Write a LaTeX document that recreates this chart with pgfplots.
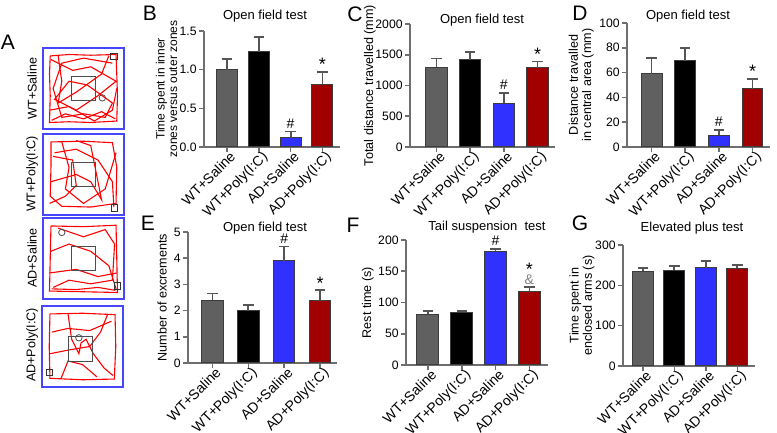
\documentclass[border=0pt]{standalone}
\usepackage{fontspec}
\setmainfont{Liberation Sans}
\usepackage{pgfplots}
\pgfplotsset{compat=1.18}

\definecolor{bargray}{RGB}{96,96,96}
\definecolor{barblue}{RGB}{48,48,255}
\definecolor{barred}{RGB}{160,0,0}
\definecolor{edgegray}{RGB}{60,60,60}
\definecolor{axisgray}{RGB}{110,110,110}
\definecolor{errgray}{RGB}{85,85,85}
\definecolor{framblue}{RGB}{70,70,255}

\newcommand{\tickfont}{\fontsize{6.1}{7}\selectfont}
\newcommand{\labfont}{\fontsize{6.3}{6.6}\selectfont}
\newcommand{\titfont}{\fontsize{6.5}{8}\selectfont}
\newcommand{\letfont}{\fontsize{10.5}{12}\selectfont}
\newcommand{\sigfont}{\fontsize{7}{8}\selectfont}
\newcommand{\starfont}{\fontsize{9}{9}\selectfont}

\pgfplotsset{
  barpanel/.style={
    scale only axis, anchor=south west,
    axis x line*=bottom, axis y line*=left,
    axis line style={draw=axisgray, line width=0.8pt},
    ybar, bar shift=0pt, ymin=0,
    xtick={0,1,2,3},
    xticklabels={WT+Saline,WT+Poly(I:C),AD+Saline,AD+Poly(I:C)},
    x tick label style={rotate=45, anchor=north east, font=\fontsize{7}{7}\selectfont,
      inner sep=1pt, xshift=2.5pt, yshift=1pt},
    y tick label style={font=\tickfont, inner sep=1pt},
    ylabel style={font=\labfont, align=center, inner sep=0pt, anchor=center},
    tick style={draw=axisgray, line width=0.8pt},
    major tick length=2.5pt, tick align=outside,
    /pgf/number format/assume math mode=true,
    clip=false,
  },
  ylpos/.style={ylabel style={at={(axis description cs:#1,0.5)}}},
  bar/.style={draw=edgegray, line width=0.5pt,
    error bars/y dir=plus, error bars/y explicit,
    error bars/error bar style={draw=errgray, line width=0.9pt},
    error bars/error mark options={rotate=90, draw=errgray, line width=0.9pt, mark size=2.6pt}},
  track/.style={
    scale only axis, anchor=south west, width=40.5pt, height=40.5pt,
    xmin=-6, xmax=106, ymin=-6, ymax=106, ticks=none,
    axis line style={draw=framblue, line width=0.8pt}},
  path/.style={red, line width=0.55pt},
  zone/.style={black!70, line width=0.45pt},
}

\begin{document}
\begin{tikzpicture}[x=1pt,y=1pt]
\path[use as bounding box] (0,0) rectangle (388.5,216.5);

% ---------- A: tracks ----------
\node[font=\letfont] at (4,195.5) {A};
\begin{axis}[track, at={(21.5pt,152pt)}]
\addplot[path] coordinates {(4,95)(30,97)(60,96)(95,97)(96,70)(97,40)(96,5)(60,3)(30,4)(3,3)(4,40)(3,70)(4,95)};
\addplot[path] coordinates {(5,90)(35,75)(60,80)(95,60)(70,40)(40,20)(10,35)(30,60)(55,55)(90,30)(80,10)(50,15)(20,10)(8,50)(20,85)(50,92)(90,85)};
\addplot[path] coordinates {(15,95)(20,60)(15,30)(40,45)(75,70)(85,95)};
\addplot[path] coordinates {(3,20)(30,25)(65,5)(90,20)(96,50)};
\addplot[path] coordinates {(6,6)(25,15)(50,8)(75,18)(94,8)};
\addplot[zone] coordinates {(33,33)(67,33)(67,67)(33,67)(33,33)};
\addplot[only marks, mark=square, mark size=1.6pt, black!80] coordinates {(92,94)};
\addplot[only marks, mark=o, mark size=1.6pt, black!70] coordinates {(76,37)};
\end{axis}
\node[rotate=90, font=\labfont] at (16,172.25) {WT+Saline};

\begin{axis}[track, at={(21.5pt,109pt)}]
\addplot[path] coordinates {(5,95)(50,96)(90,94)(96,60)(95,10)(60,5)(20,6)(4,20)(5,60)(5,95)};
\addplot[path] coordinates {(10,80)(40,85)(70,70)(90,40)(92,5)};
\addplot[path] coordinates {(20,95)(30,60)(25,30)(50,10)(80,30)(95,80)};
\addplot[path] coordinates {(5,40)(40,50)(60,40)(75,15)(60,90)(40,97)};
\addplot[path] coordinates {(3,10)(25,20)(40,35)(35,70)(8,75)};
\addplot[zone] coordinates {(33,33)(67,33)(67,67)(33,67)(33,33)};
\addplot[only marks, mark=square, mark size=1.6pt, black!80] coordinates {(93,4)};
\end{axis}
\node[rotate=90, font=\labfont] at (16,129.5) {WT+Poly(I:C)};

\begin{axis}[track, at={(21.5pt,67pt)}]
\addplot[path] coordinates {(5,95)(50,94)(95,96)(96,50)(97,3)(50,4)(3,5)(4,50)(5,95)};
\addplot[path] coordinates {(15,92)(50,80)(80,90)(93,70)(90,20)(60,15)(30,20)(8,10)};
\addplot[path] coordinates {(5,60)(30,70)(60,60)(85,40)(95,8)};
\addplot[path] coordinates {(3,30)(40,35)(70,25)(96,30)};
\addplot[path] coordinates {(6,8)(40,7)(70,10)(94,6)};
\addplot[zone] coordinates {(33,33)(67,33)(67,67)(33,67)(33,33)};
\addplot[only marks, mark=square, mark size=1.6pt, black!80] coordinates {(97,12)};
\addplot[only marks, mark=o, mark size=1.6pt, black!70] coordinates {(20,86)};
\end{axis}
\node[rotate=90, font=\labfont] at (16,87.5) {AD+Saline};

\begin{axis}[track, at={(21pt,23pt)}]
\addplot[path] coordinates {(5,95)(50,96)(95,94)(96,50)(94,5)(50,4)(5,6)(4,50)(5,95)};
\addplot[path] coordinates {(8,70)(30,75)(60,72)(90,85)};
\addplot[path] coordinates {(30,95)(35,60)(45,40)(48,55)(55,60)(65,40)(80,20)(92,10)};
\addplot[path] coordinates {(5,40)(30,45)(60,50)(75,70)(85,95)};
\addplot[path] coordinates {(20,5)(30,30)(50,25)(70,8)};
\addplot[zone] coordinates {(30,30)(64,30)(64,64)(30,64)(30,30)};
\addplot[only marks, mark=square, mark size=1.6pt, black!80] coordinates {(4,14)};
\addplot[only marks, mark=o, mark size=1.6pt, black!70] coordinates {(45,62)};
\end{axis}
\node[rotate=90, font=\labfont] at (16,44) {AD+Poly(I:C)};

% ---------- B ----------
\node[font=\letfont] at (75,210) {B};
\node[font=\titfont] at (132.5,208.5) {Open field test};
\begin{axis}[barpanel, at={(102pt,143pt)}, width=68pt, height=58pt,
  xmin=-0.72, xmax=3.55, ymax=1.5, bar width=0.66,
  ytick={0,0.5,1,1.5}, yticklabels={0.0,0.5,1.0,1.5},
  ylabel style={font=\fontsize{6}{6.2}\selectfont}, ylpos=-0.275,
  ylabel={Time spent in inner\\zones versus outer zones}]
\addplot[bar, fill=bargray] coordinates {(0,1.00) +- (0,0.14)};
\addplot[bar, fill=black] coordinates {(1,1.23) +- (0,0.19)};
\addplot[bar, fill=barblue] coordinates {(2,0.12) +- (0,0.08)};
\addplot[bar, fill=barred] coordinates {(3,0.81) +- (0,0.16)};
\node[above, font=\sigfont, inner sep=1.5pt] at (axis cs:2,0.2) {\#};
\node[above, font=\starfont, inner sep=0pt] at (axis cs:3,0.99) {*};
\end{axis}

% ---------- C ----------
\node[font=\letfont] at (177.5,209.5) {C};
\node[font=\titfont] at (241,206.5) {Open field test};
\begin{axis}[barpanel, at={(205pt,143pt)}, width=72.5pt, height=61.5pt,
  xmin=-0.79, xmax=3.52, ymax=2000, bar width=0.64,
  ytick={0,500,1000,1500,2000}, yticklabels={0,500,1000,1500,2000},
  ylpos=-0.276,
  ylabel={Total distance travelled (mm)}]
\addplot[bar, fill=bargray] coordinates {(0,1300) +- (0,140)};
\addplot[bar, fill=black] coordinates {(1,1420) +- (0,120)};
\addplot[bar, fill=barblue] coordinates {(2,710) +- (0,170)};
\addplot[bar, fill=barred] coordinates {(3,1290) +- (0,100)};
\node[above, font=\sigfont, inner sep=1.5pt] at (axis cs:2,880) {\#};
\node[above, font=\starfont, inner sep=0pt] at (axis cs:3,1395) {*};
\end{axis}

% ---------- D ----------
\node[font=\letfont] at (290,210) {D};
\node[font=\titfont] at (344,208.5) {Open field test};
\begin{axis}[barpanel, at={(313.5pt,143pt)}, width=71.5pt, height=62pt,
  xmin=-0.73, xmax=3.52, ymax=100, bar width=0.62,
  ytick={0,20,40,60,80,100}, yticklabels={0,20,40,60,80,100},
  ylpos=-0.32,
  ylabel={Distance travalled\\in central area (mm)}]
\addplot[bar, fill=bargray] coordinates {(0,59) +- (0,13)};
\addplot[bar, fill=black] coordinates {(1,69.5) +- (0,10.5)};
\addplot[bar, fill=barblue] coordinates {(2,9.5) +- (0,4.5)};
\addplot[bar, fill=barred] coordinates {(3,47) +- (0,8)};
\node[above, font=\sigfont, inner sep=1.5pt] at (axis cs:2,14) {\#};
\node[above, font=\starfont, inner sep=0pt] at (axis cs:3,56) {*};
\end{axis}

% ---------- E ----------
\node[font=\letfont] at (74,105) {E};
\node[font=\titfont] at (132.5,102.5) {Open field test};
\begin{axis}[barpanel, at={(94pt,35pt)}, width=74.5pt, height=65.5pt,
  xmin=-0.68, xmax=3.47, ymax=5, bar width=0.6,
  ytick={0,1,2,3,4,5}, yticklabels={0,1,2,3,4,5},
  ylpos=-0.174,
  ylabel={Number of excrements}]
\addplot[bar, fill=bargray] coordinates {(0,2.40) +- (0,0.25)};
\addplot[bar, fill=black] coordinates {(1,2.00) +- (0,0.22)};
\addplot[bar, fill=barblue] coordinates {(2,3.90) +- (0,0.55)};
\addplot[bar, fill=barred] coordinates {(3,2.40) +- (0,0.38)};
\node[above, font=\sigfont, inner sep=1.5pt] at (axis cs:2,4.45) {\#};
\node[above, font=\starfont, inner sep=0pt] at (axis cs:3,2.8) {*};
\end{axis}

% ---------- F ----------
\node[font=\letfont] at (176.5,104) {F};
\node[font=\titfont] at (243.5,103) {Tail suspension\ \ test};
\begin{axis}[barpanel, at={(203pt,34pt)}, width=71pt, height=62.5pt,
  xmin=-0.65, xmax=3.55, ymax=200, bar width=0.65,
  ytick={0,50,100,150,200}, yticklabels={0,50,100,150,200},
  ylpos=-0.268,
  ylabel={Rest time (s)}]
\addplot[bar, fill=bargray] coordinates {(0,81) +- (0,6)};
\addplot[bar, fill=black] coordinates {(1,84) +- (0,3)};
\addplot[bar, fill=barblue] coordinates {(2,182) +- (0,4)};
\addplot[bar, fill=barred] coordinates {(3,118) +- (0,7)};
\node[above, font=\sigfont, inner sep=1.5pt] at (axis cs:2,186) {\#};
\node[above, font=\sigfont, inner sep=1pt, text=gray] at (axis cs:3,125) {\&};
\node[above, font=\starfont, inner sep=0pt] at (axis cs:3,143) {*};
\end{axis}

% ---------- G ----------
\node[font=\letfont] at (290,105) {G};
\node[font=\titfont] at (346,102.5) {Elevated plus test};
\begin{axis}[barpanel, at={(311.5pt,33.5pt)}, width=66pt, height=60.5pt,
  xmin=-0.63, xmax=3.56, ymax=300, bar width=0.67,
  ytick={0,100,200,300}, yticklabels={0,100,200,300},
  ylpos=-0.31,
  ylabel={Time spent in\\enclosed arms (s)}]
\addplot[bar, fill=bargray] coordinates {(0,235) +- (0,8)};
\addplot[bar, fill=black] coordinates {(1,237) +- (0,11)};
\addplot[bar, fill=barblue] coordinates {(2,244) +- (0,16)};
\addplot[bar, fill=barred] coordinates {(3,242) +- (0,8)};
\end{axis}
\end{tikzpicture}
\end{document}
